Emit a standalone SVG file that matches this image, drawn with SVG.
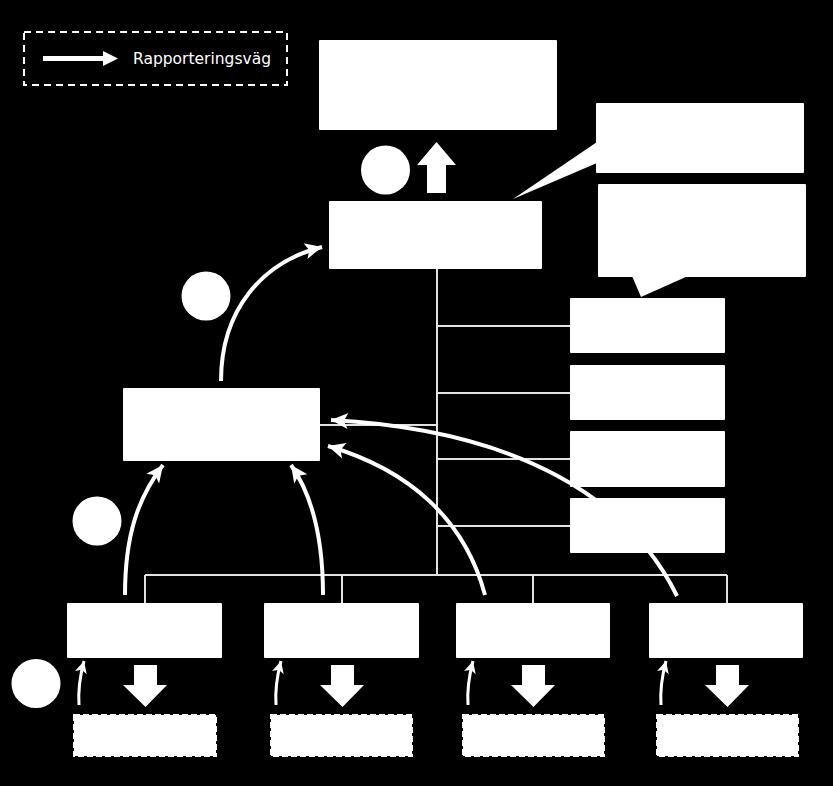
<svg xmlns="http://www.w3.org/2000/svg" width="833" height="786" viewBox="0 0 833 786">
<style>
.box{fill:#fff}
.conn{stroke:#e2e2e2;stroke-width:2;fill:none}
.flow{stroke:#fff;stroke-width:4;fill:none;stroke-linecap:butt}
.small{stroke:#fff;stroke-width:3;fill:none}
.dash{fill:#fff;stroke:#fff;stroke-width:2;stroke-dasharray:6 3}
.num{fill:#fff}
.arr{fill:#fff}
.lbl{font-family:"DejaVu Sans",sans-serif;font-size:15.5px;fill:#fff}
</style>
<defs>
<marker id="head" markerUnits="userSpaceOnUse" markerWidth="20" markerHeight="20" viewBox="0 0 20 20" refX="18" refY="10" orient="auto">
<path d="M1,2 L18,10 L1,18 L5,10 Z" fill="#fff"/>
</marker>
<marker id="headS" markerUnits="userSpaceOnUse" markerWidth="14" markerHeight="14" viewBox="0 0 14 14" refX="13" refY="7" orient="auto">
<path d="M1,1 L13,7 L1,13 L4,7 Z" fill="#fff"/>
</marker>
</defs>
<rect x="0" y="0" width="833" height="786" fill="#000"/>

<g id="legend">
<rect x="24" y="32" width="263" height="53" fill="none" stroke="#fff" stroke-width="2" stroke-dasharray="7 5"/>
<line x1="43" y1="58.5" x2="105" y2="58.5" stroke="#fff" stroke-width="5"/>
<polygon points="103,51 118,58.5 103,66" fill="#fff"/>
<text class="lbl" x="133" y="64">Rapporteringsväg</text>
</g>

<g id="connectors">
<line class="conn" x1="437" y1="269" x2="437" y2="576"/>
<line class="conn" x1="437" y1="326" x2="570" y2="326"/>
<line class="conn" x1="437" y1="393" x2="570" y2="393"/>
<line class="conn" x1="437" y1="459" x2="570" y2="459"/>
<line class="conn" x1="437" y1="526" x2="570" y2="526"/>
<line class="conn" x1="320" y1="425" x2="437" y2="425"/>
<line class="conn" x1="145" y1="575" x2="727" y2="575"/>
<line class="conn" x1="145" y1="575" x2="145" y2="603"/>
<line class="conn" x1="342" y1="575" x2="342" y2="603"/>
<line class="conn" x1="533" y1="575" x2="533" y2="603"/>
<line class="conn" x1="727" y1="575" x2="727" y2="603"/>

<path class="flow" d="M221,381 C221,310 262,262 322,247" marker-end="url(#head)"/>
<path class="flow" d="M125,595 C125,535 138,498 163,465" marker-end="url(#head)"/>
<path class="flow" d="M323,595 C323,540 312,495 291,465" marker-end="url(#head)"/>
<path class="flow" d="M485,595 C465,520 410,470 328,446" marker-end="url(#head)"/>
<path class="flow" d="M677,596 C630,500 520,430 331,420" marker-end="url(#head)"/>

<path class="small" d="M79,705 C78,690 80,676 84,661" marker-end="url(#headS)"/>
<path class="small" d="M276,705 C275,690 277,676 281,661" marker-end="url(#headS)"/>
<path class="small" d="M468,705 C467,690 469,676 473,661" marker-end="url(#headS)"/>
<path class="small" d="M661,705 C660,690 662,676 666,661" marker-end="url(#headS)"/>
</g>

<g id="top-box"><rect class="box" x="319" y="40" width="238" height="90" rx="1"/></g>
<g id="center-box"><rect class="box" x="329" y="201" width="213" height="68" rx="1"/></g>

<g id="callout-1">
<rect class="box" x="596" y="103" width="208" height="70" rx="1"/>
<polygon class="box" points="597,142 513,199 597,163"/>
</g>
<g id="callout-2">
<rect class="box" x="598" y="184" width="208" height="93" rx="1"/>
<polygon class="box" points="632,276 641,297 688,276"/>
</g>

<g id="up-arrow"><polygon class="arr" points="427,193 427,165 417,165 436.5,142 456,165 446,165 446,193"/></g>
<g id="circle-1"><circle class="num" cx="385.5" cy="170" r="24.5"/></g>
<g id="circle-2"><circle class="num" cx="206" cy="296" r="24.5"/></g>
<g id="circle-3"><circle class="num" cx="97" cy="521" r="24.5"/></g>
<g id="circle-4"><circle class="num" cx="36" cy="683.5" r="24.5"/></g>

<g id="left-box"><rect class="box" x="123" y="388" width="197" height="73" rx="1"/></g>

<g id="right-box-1"><rect class="box" x="570" y="298" width="155" height="55" rx="1"/></g>
<g id="right-box-2"><rect class="box" x="570" y="365" width="155" height="55" rx="1"/></g>
<g id="right-box-3"><rect class="box" x="570" y="431" width="155" height="56" rx="1"/></g>
<g id="right-box-4"><rect class="box" x="570" y="498" width="155" height="55" rx="1"/></g>

<g id="bottom-box-1"><rect class="box" x="67" y="603" width="155" height="55" rx="1"/></g>
<g id="bottom-box-2"><rect class="box" x="264" y="603" width="155" height="55" rx="1"/></g>
<g id="bottom-box-3"><rect class="box" x="456" y="603" width="154" height="55" rx="1"/></g>
<g id="bottom-box-4"><rect class="box" x="649" y="603" width="154" height="55" rx="1"/></g>

<g id="down-arrow-1"><polygon class="arr" points="134,665 157,665 157,685 167,685 145.5,707 123,685 134,685"/></g>
<g id="down-arrow-2"><polygon class="arr" points="331,665 354,665 354,685 364,685 342.5,707 320,685 331,685"/></g>
<g id="down-arrow-3"><polygon class="arr" points="522,665 545,665 545,685 555,685 533.5,707 511,685 522,685"/></g>
<g id="down-arrow-4"><polygon class="arr" points="716,665 739,665 739,685 749,685 727.5,707 705,685 716,685"/></g>

<g id="dashed-box-1"><rect class="dash" x="74" y="715" width="142" height="41"/></g>
<g id="dashed-box-2"><rect class="dash" x="271" y="715" width="141" height="41"/></g>
<g id="dashed-box-3"><rect class="dash" x="463" y="715" width="141" height="41"/></g>
<g id="dashed-box-4"><rect class="dash" x="657" y="715" width="141" height="41"/></g>
</svg>
